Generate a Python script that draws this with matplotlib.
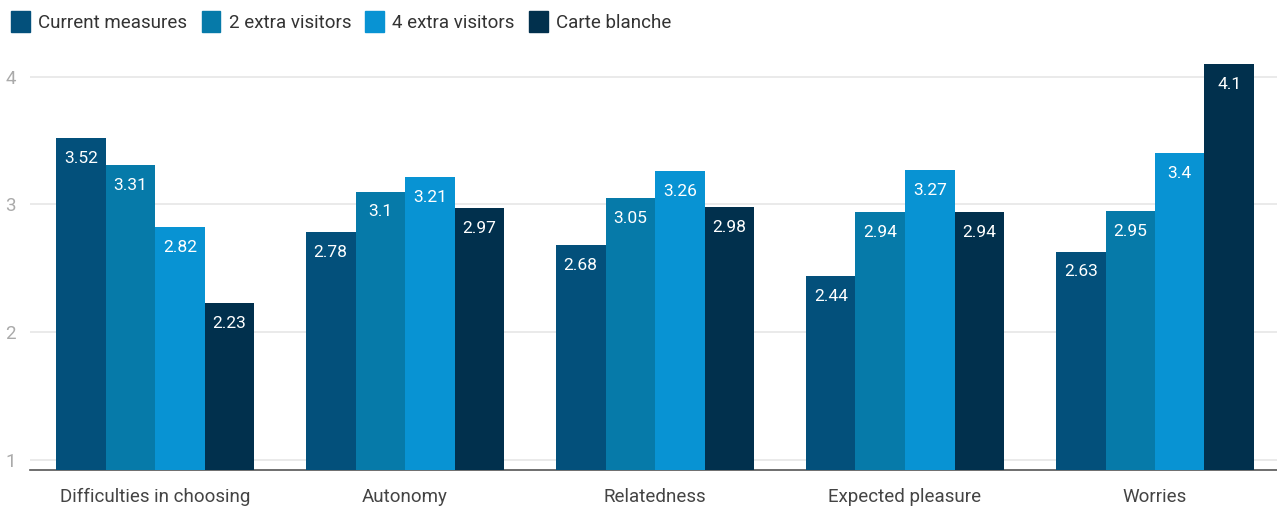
import numpy as np
import matplotlib.pyplot as plt
from matplotlib.patches import Patch

plt.rcParams['font.family'] = ['Roboto', 'DejaVu Sans']

categories = ['Difficulties in choosing', 'Autonomy', 'Relatedness',
              'Expected pleasure', 'Worries']
series_names = ['Current measures', '2 extra visitors', '4 extra visitors', 'Carte blanche']
current = [3.52, 2.78, 2.68, 2.44, 2.63]
extra2 = [3.31, 3.1, 3.05, 2.94, 2.95]
extra4 = [2.82, 3.21, 3.26, 3.27, 3.4]
carte = [2.23, 2.97, 2.98, 2.94, 4.1]
series = [current, extra2, extra4, carte]
colors = ['#03507b', '#067aa9', '#0893d3', '#01304d']

fig = plt.figure(figsize=(12.77, 5.07), dpi=100)
ax = fig.add_axes([30 / 1277, 1 - 470 / 507, 1250 / 1277, 419 / 507])

x = np.arange(len(categories))
w = 0.198
base = 0.92
for i, (vals, col) in enumerate(zip(series, colors)):
    pos = x + (i - 1.5) * w
    heights = [v - base for v in vals]
    ax.bar(pos, heights, w, bottom=base, color=col, zorder=3)
    for p, v in zip(pos, vals):
        ax.text(p, v - 0.16, f'{v:g}', ha='center', va='center',
                color='white', fontsize=12.5, zorder=4)

ax.set_xlim(-0.5, len(categories) - 0.5)
ax.set_ylim(base, 4.2)
ax.set_yticks([1, 2, 3, 4])
ax.yaxis.grid(True, color='#e6e6e6', lw=1.2, zorder=0)
ax.set_xticks(x)
ax.set_xticklabels(categories, fontsize=13.5, color='#444444')
ax.tick_params(axis='x', length=0, pad=13)
ax.tick_params(axis='y', length=0, labelcolor='#aaaaaa', labelsize=13.5, pad=10)
for s in ['top', 'right', 'left']:
    ax.spines[s].set_visible(False)
ax.spines['bottom'].set_color('#555555')
ax.spines['bottom'].set_linewidth(1.2)

handles = [Patch(color=c, label=n) for c, n in zip(colors, series_names)]
fig.legend(handles=handles, loc='upper left', bbox_to_anchor=(0.0, 1.0), ncol=4,
           frameon=False, fontsize=13.5, handlelength=1.0, handleheight=1.3,
           handletextpad=0.45, columnspacing=0.75, labelcolor='#333333',
           borderaxespad=0.2, borderpad=0.4)

fig.savefig('out.png', dpi=100)
